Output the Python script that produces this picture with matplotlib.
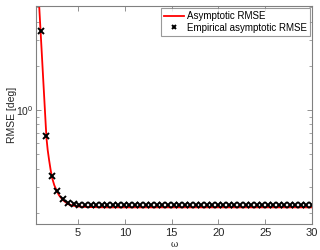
import matplotlib
matplotlib.use('Agg')
import matplotlib.pyplot as plt
import numpy as np

# omega grid for the empirical points
omega = np.linspace(1, 30, 50)
# empirical asymptotic RMSE [deg]
emp_rmse = [3.45, 0.67, 0.355, 0.28, 0.247, 0.233, 0.229, 0.227] + [0.226] * 42

# asymptotic RMSE curve
asym_omega = [0.8, 0.95, 1.09, 1.25, 1.4, 1.55, 1.63, 1.75, 1.9, 2.05, 2.2,
              2.45, 2.7, 2.95, 3.2, 3.45, 3.95, 4.45, 4.95, 6, 8, 10, 15,
              20, 25, 30]
asym_rmse = [5.7, 3.81, 2.63, 1.71, 1.15, 0.77, 0.635, 0.535, 0.457, 0.397,
             0.35, 0.309, 0.284, 0.264, 0.252, 0.242, 0.229, 0.224, 0.221,
             0.219, 0.218, 0.218, 0.218, 0.218, 0.218, 0.218]

plt.rcParams['font.family'] = 'Liberation Sans'
plt.rcParams['font.size'] = 7.5
plt.rcParams['mathtext.fontset'] = 'custom'
plt.rcParams['mathtext.rm'] = 'Liberation Sans'
plt.rcParams['mathtext.it'] = 'Liberation Sans:italic'
plt.rcParams['mathtext.bf'] = 'Liberation Sans:bold'

fig = plt.figure(figsize=(3.2, 2.5), dpi=100)
ax = fig.add_axes([0.1125, 0.104, 0.8625, 0.872])

ax.plot(asym_omega, asym_rmse, color='red', lw=1.3, label='Asymptotic RMSE')
ax.plot(omega, emp_rmse, 'x', color='black', ms=4, mew=1.4,
        label='Empirical asymptotic RMSE')

ax.set_yscale('log')
ax.set_xlim(0.5, 30)
ax.set_ylim(0.168, 5.1)
ax.set_xticks([5, 10, 15, 20, 25, 30])

for s in ax.spines.values():
    s.set_color('#808080')
    s.set_linewidth(0.8)
ax.tick_params(which='both', direction='in', top=True, right=True,
               color='#808080', labelcolor='#262626', labelsize=8)
ax.tick_params(axis='x', pad=3)
ax.tick_params(axis='y', pad=2, labelsize=7.5)
ax.tick_params(which='major', length=3.5, width=0.6)
ax.tick_params(which='minor', length=2, width=0.5)

ax.set_xlabel('ω', family='DejaVu Serif', fontsize=6.5, labelpad=1, color='#262626')
ax.set_ylabel('RMSE [deg]', color='#262626')
ax.yaxis.set_label_coords(-0.068, 0.5)

leg = ax.legend(loc='upper right', fontsize=7, frameon=True, fancybox=False,
                borderpad=0.3, handlelength=2.0, handletextpad=0.3,
                labelspacing=0.15, borderaxespad=0.25, markerscale=0.75)
leg.get_frame().set_edgecolor('#808080')
leg.get_frame().set_linewidth(0.8)

fig.savefig('out.png', dpi=100)
